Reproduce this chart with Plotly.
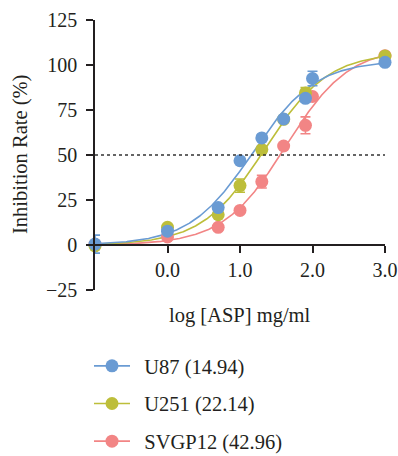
import numpy as np
import plotly.graph_objects as go

# ---- data ----
log_conc = [-1.0, 0.0, 0.699, 1.0, 1.301, 1.602, 1.903, 2.0, 3.0]

u87_vals = [0.5, 7.7, 20.8, 46.8, 59.5, 70.0, 81.5, 92.5, 101.5]
u87_err = [5.0, 1.5, 1.5, 1.5, 1.5, 1.5, 2.0, 4.0, 1.5]

u251_vals = [-0.5, 9.8, 16.8, 33.0, 53.0, 69.8, 84.5, None, 105.0]
u251_err = [1.5, 1.5, 1.5, 3.7, 2.0, 1.5, 3.0, 0, 1.5]

svgp_vals = [0.3, 4.5, 9.8, 19.2, 35.2, 55.0, 66.5, 82.5, 105.2]
svgp_err = [1.5, 1.5, 1.5, 1.5, 3.5, 1.5, 4.7, 1.5, 1.5]

series_names = ["U87 (14.94)", "U251 (22.14)", "SVGP12 (42.96)"]

# fitted 4-parameter logistic parameters (bottom, top, logIC50, hill)
u87_fit = [0.0, 102.5, 1.174, 1.0]
u251_fit = [0.0, 107.0, 1.345, 1.0]
svgp_fit = [0.0, 110.0, 1.633, 1.0]

x_tick_vals = [0, 1, 2, 3]
x_tick_text = ["0.0", "1.0", "2.0", "3.0"]
y_tick_vals = [-25, 0, 25, 50, 75, 100, 125]

colors = {"U87": "#6A9BD3", "U251": "#BDBE3A", "SVGP12": "#F28585"}

FONT = "Liberation Serif"
TXT = "#231F20"

def logistic(p, x):
    b, t, c, h = p
    return b + (t - b) / (1.0 + 10 ** ((c - x) * h))

xs = np.linspace(-1, 3, 300)

fig = go.Figure()

order = [
    ("SVGP12", svgp_vals, svgp_err, svgp_fit, series_names[2], 3),
    ("U251", u251_vals, u251_err, u251_fit, series_names[1], 2),
    ("U87", u87_vals, u87_err, u87_fit, series_names[0], 1),
]

for key, vals, err, fit, name, rank in order:
    col = colors[key]
    fig.add_trace(go.Scatter(
        x=xs, y=logistic(fit, xs), mode="lines",
        line=dict(color=col, width=1.6), showlegend=False,
        hoverinfo="skip", cliponaxis=False,
    ))
for key, vals, err, fit, name, rank in order:
    col = colors[key]
    fig.add_trace(go.Scatter(
        x=log_conc, y=vals, mode="markers",
        marker=dict(color=col, size=13),
        error_y=dict(type="data", array=err, color=col, thickness=1.6, width=5),
        showlegend=False, cliponaxis=False,
    ))
# legend entries
for key, vals, err, fit, name, rank in order:
    col = colors[key]
    fig.add_trace(go.Scatter(
        x=[None], y=[None], mode="lines+markers",
        name="\u00a0\u2009" + name,
        line=dict(color=col, width=1.6), marker=dict(color=col, size=13),
        legendrank=rank, legendgroup=key,
    ))

fig.add_shape(type="line", xref="x", yref="y", x0=-1, x1=3, y0=50, y1=50,
              line=dict(color="#333333", width=1.5, dash="dot"))

PH = 270.0  # plot height in px
PW = 290.0  # plot width in px

fig.update_layout(
    width=398, height=456,
    margin=dict(l=95, r=13, t=20, b=166, autoexpand=False),
    paper_bgcolor="white", plot_bgcolor="white",
    font=dict(family=FONT, size=20, color=TXT),
    showlegend=True,
    legend=dict(x=-6 / PW, y=-56 / PH, xanchor="left", yanchor="top",
                font=dict(family=FONT, size=20.5, color=TXT),
                itemwidth=36,
                tracegroupgap=8, bgcolor="rgba(0,0,0,0)"),
    xaxis=dict(range=[-1, 3], anchor="free", position=25 / 150,
               showline=True, linecolor=TXT, linewidth=1.5,
               ticks="outside", ticklen=7, tickwidth=1.5, tickcolor=TXT,
               tickvals=x_tick_vals, ticktext=x_tick_text,
               tickfont=dict(family=FONT, size=20, color=TXT),
               showgrid=False, zeroline=False, automargin=False),
    yaxis=dict(range=[-25, 125], showline=True, linecolor=TXT, linewidth=1.5,
               ticks="outside", ticklen=7, tickwidth=1.5, tickcolor=TXT,
               tickvals=y_tick_vals, ticklabelstandoff=5,
               tickfont=dict(family=FONT, size=20, color=TXT),
               showgrid=False, zeroline=False, automargin=False),
    annotations=[
        dict(text="log [ASP] mg/ml", xref="paper", yref="paper",
             x=0.5, y=-25 / PH, xanchor="center", yanchor="middle",
             showarrow=False, font=dict(family=FONT, size=20.5, color=TXT)),
        dict(text="Inhibition Rate (%)", xref="paper", yref="paper",
             x=-75 / PW, y=0.5, xanchor="center", yanchor="middle",
             textangle=-90, showarrow=False,
             font=dict(family=FONT, size=20.5, color=TXT)),
    ],
)

fig.write_html(
    "out.html",
    config={"displayModeBar": False},
    post_script="document.body.style.margin='0';document.body.style.overflow='hidden';",
)
